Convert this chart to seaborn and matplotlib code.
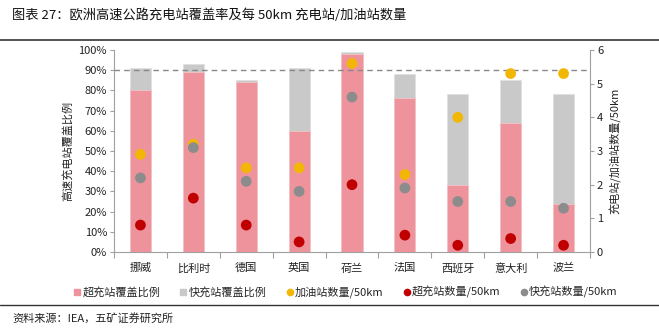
import matplotlib
matplotlib.use("Agg")
import matplotlib.pyplot as plt
import seaborn as sns
import pandas as pd
from matplotlib.lines import Line2D

sns.set_theme(style="white")
plt.rcParams['font.family'] = ['Noto Sans CJK SC', 'DejaVu Sans']

countries = ["挪威", "比利时", "德国", "英国", "荷兰", "法国", "西班牙", "意大利", "波兰"]
super_cov = [80, 89, 84, 60, 98, 76, 33, 64, 24]
total_cov = [91, 93, 85, 91, 99, 88, 78, 85, 78]
fuel_per50 = [2.9, 3.2, 2.5, 2.5, 5.6, 2.3, 4.0, 5.3, 5.3]
super_per50 = [0.8, 1.6, 0.8, 0.3, 2.0, 0.5, 0.2, 0.4, 0.2]
fast_per50 = [2.2, 3.1, 2.1, 1.8, 4.6, 1.9, 1.5, 1.5, 1.3]

df = pd.DataFrame({"country": countries, "super": super_cov, "total": total_cov,
                   "fuel": fuel_per50, "sup50": super_per50, "fast50": fast_per50})

PINK = "#EE939C"
LGRAY = "#C9C9C9"
YEL = "#F2B705"
RED = "#C00000"
DGRAY = "#8C8C8C"

fig = plt.figure(figsize=(6.59, 3.29), dpi=100)
ax = fig.add_axes([114/659, 1-252/329, (590-114)/659, (252-50)/329])

sns.barplot(data=df, x="country", y="total", color=LGRAY, width=0.4, ax=ax,
            saturation=1, edgecolor="#E0E0E0", linewidth=0.6)
sns.barplot(data=df, x="country", y="super", color=PINK, width=0.4, ax=ax,
            saturation=1, edgecolor="#F2C4C8", linewidth=0.6)
ax.set_ylim(0, 100)
ax.set_xlim(-0.5, len(countries) - 0.5)
ax.axhline(90, color="#888888", linestyle=(0, (4, 3)), linewidth=1.0, zorder=5)
ax.set_yticks(range(0, 101, 10))
ax.set_yticklabels([f"{v}%" for v in range(0, 101, 10)], fontsize=8, color="#222222")
ax.set_xlabel("")
ax.set_ylabel("高速充电站覆盖比例", fontsize=8, color="#222222")
ax.tick_params(axis="x", length=0, labelsize=8, colors="#222222", pad=8)
ax.tick_params(axis="y", length=3, left=True, color="#A0A0A0", width=0.8, pad=2)
for s in ["top", "right"]:
    ax.spines[s].set_visible(False)
for s in ["left", "bottom"]:
    ax.spines[s].set_color("#A0A0A0")
    ax.spines[s].set_linewidth(0.8)
ax.set_xticks([i + 0.5 for i in range(-1, len(countries))], minor=True)
ax.tick_params(axis="x", which="minor", length=4, bottom=True, color="#A0A0A0", width=0.8)

ax2 = ax.twinx()
sns.scatterplot(data=df, x="country", y="fuel", color=YEL, s=60, edgecolor="none", ax=ax2, zorder=6)
sns.scatterplot(data=df, x="country", y="fast50", color=DGRAY, s=60, edgecolor="none", ax=ax2, zorder=6)
sns.scatterplot(data=df, x="country", y="sup50", color=RED, s=60, edgecolor="none", ax=ax2, zorder=6)
ax2.set_ylim(0, 6)
ax2.set_xlim(-0.5, len(countries) - 0.5)
ax2.set_yticks(range(0, 7))
ax2.set_yticklabels([str(v) for v in range(0, 7)], fontsize=8, color="#222222")
ax2.set_ylabel("充电站/加油站数量/50km", fontsize=8, color="#222222")
ax2.set_xlabel("")
ax2.tick_params(axis="y", length=3, right=True, color="#A0A0A0", width=0.8, pad=2)
for s in ["top", "left", "bottom"]:
    ax2.spines[s].set_visible(False)
ax2.spines["right"].set_color("#A0A0A0")
ax2.spines["right"].set_linewidth(0.8)

handles = [
    Line2D([], [], marker="s", linestyle="none", color=PINK, markersize=4.5),
    Line2D([], [], marker="s", linestyle="none", color=LGRAY, markersize=4.5),
    Line2D([], [], marker="o", linestyle="none", color=YEL, markersize=4.5),
    Line2D([], [], marker="o", linestyle="none", color=RED, markersize=4.5),
    Line2D([], [], marker="o", linestyle="none", color=DGRAY, markersize=4.5),
]
labels = ["超充站覆盖比例", "快充站覆盖比例", "加油站数量/50km", "超充站数量/50km", "快充站数量/50km"]
fig.legend(handles, labels, loc="center", bbox_to_anchor=(345/659, 1-292/329), ncol=5,
           frameon=False, fontsize=8, handletextpad=0.05, columnspacing=1.7, handlelength=0.8)

fig.text(12/659, 1-15/329, "图表 27：欧洲高速公路充电站覆盖率及每 50km 充电站/加油站数量",
         fontsize=9.5, va="center", ha="left", color="#111111")
fig.add_artist(Line2D([0, 1], [1-40/329, 1-40/329], color="#333333", linewidth=1.2, transform=fig.transFigure))
fig.add_artist(Line2D([0, 1], [1-305/329, 1-305/329], color="#333333", linewidth=1.0, transform=fig.transFigure))
fig.text(12/659, 1-318/329, "资料来源：IEA，五矿证券研究所", fontsize=8, va="center", ha="left", color="#222222")

fig.savefig("out.png", dpi=100)
